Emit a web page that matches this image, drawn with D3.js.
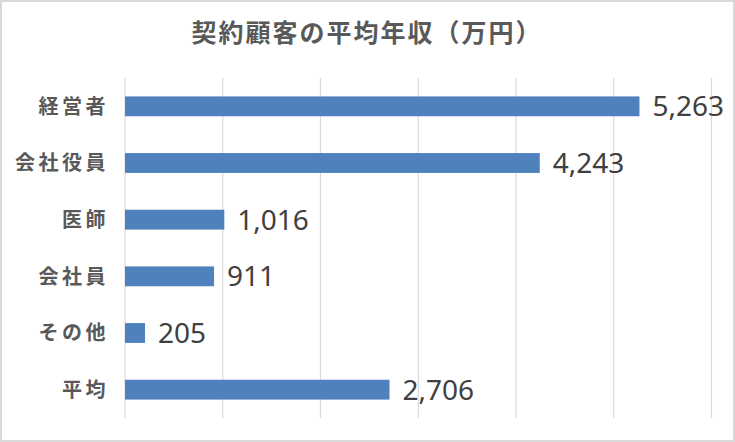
<!DOCTYPE html>
<html><head><meta charset="utf-8">
<script src="https://cdn.jsdelivr.net/npm/d3@7"></script>
<style>body{margin:0;background:#fff}svg{display:block}</style>
</head><body>
<script>
const title = "契約顧客の平均年収（万円）";
const categories = ["経営者","会社役員","医師","会社員","その他","平均"];
const values = [5263, 4243, 1016, 911, 205, 2706];
const ticks = [0,1000,2000,3000,4000,5000,6000];

const W = 735, H = 442;
const svg = d3.select("body").append("svg").attr("width", W).attr("height", H);
svg.append("rect").attr("x",1).attr("y",1).attr("width",W-2).attr("height",H-2)
  .attr("fill","#fff").attr("stroke","#d9d9d9").attr("stroke-width",2);

const x = d3.scaleLinear().domain([0,6000]).range([125,711.5]);
const y = d3.scaleBand().domain(categories).range([78,418]).paddingInner(0.65).paddingOuter(0.325);

svg.append("g").selectAll("line").data(ticks).join("line")
  .attr("x1",d=>x(d)).attr("x2",d=>x(d)).attr("y1",78).attr("y2",418)
  .attr("stroke","#d9d9d9").attr("stroke-width",1.2);

svg.append("text").attr("x",367).attr("y",42).attr("text-anchor","middle")
  .attr("font-family","'Noto Sans CJK JP'").attr("font-size",25).attr("font-weight","bold")
  .attr("letter-spacing","2px").attr("fill","#595959").text(title);

svg.append("g").selectAll("rect").data(values).join("rect")
  .attr("x",x(0)).attr("y",(d,i)=>y(categories[i])).attr("height",y.bandwidth())
  .attr("width",d=>x(d)-x(0)).attr("fill","#4f81bd");

svg.append("g").selectAll("text").data(categories).join("text")
  .attr("x",109).attr("y",d=>y(d)+y.bandwidth()/2).attr("dy","0.36em").attr("text-anchor","end")
  .attr("font-family","'Noto Sans CJK JP'").attr("font-size",20).attr("font-weight","bold")
  .attr("letter-spacing","3.5px").attr("fill","#595959").text(d=>d);

svg.append("g").selectAll("text").data(values).join("text")
  .attr("x",d=>x(d)+13).attr("y",(d,i)=>y(categories[i])+y.bandwidth()/2).attr("dy","0.36em")
  .attr("font-family","'Noto Sans'").attr("font-size",28).attr("fill","#404040")
  .text(d=>d3.format(",")(d));
</script>
</body></html>
